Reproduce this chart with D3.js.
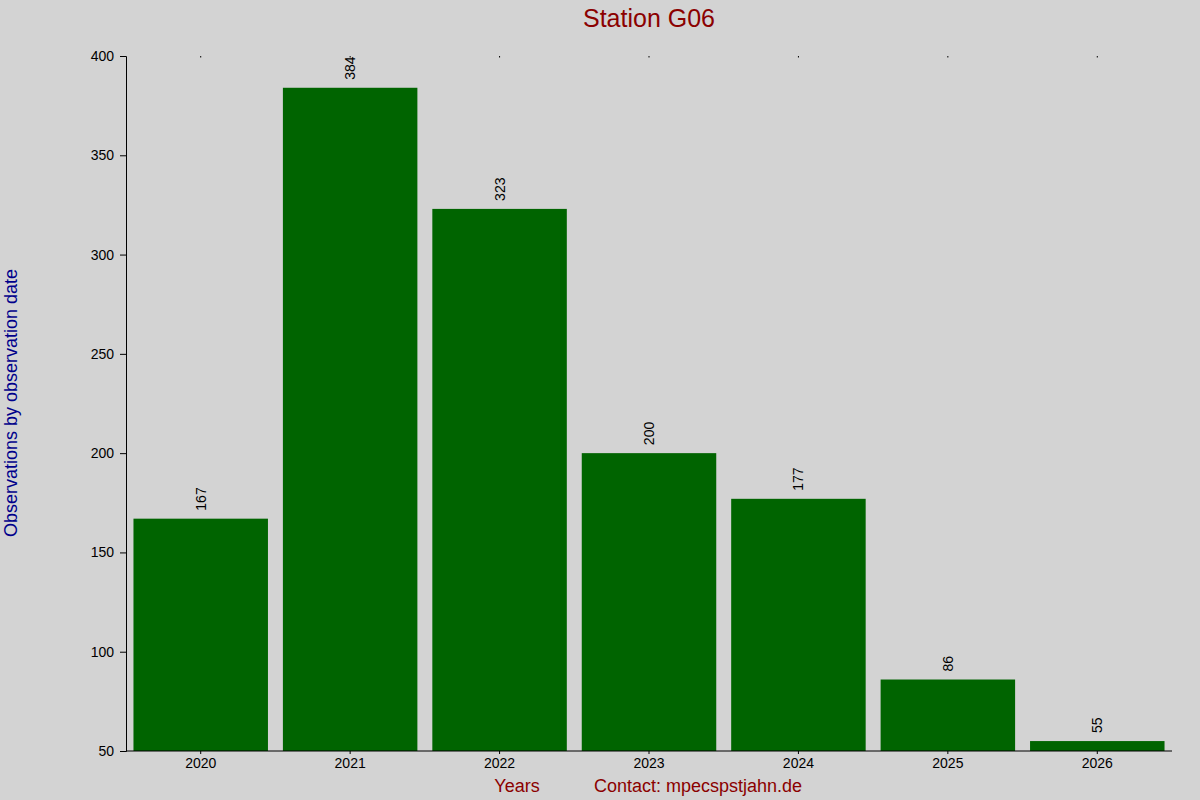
<!DOCTYPE html>
<html><head><meta charset="utf-8">
<script src="https://cdn.jsdelivr.net/npm/d3@7"></script>
<style>body{margin:0;background:#d3d3d3}svg{display:block;font-family:"Liberation Sans",Arial,sans-serif}</style>
</head><body><svg width="1200" height="800"></svg>
<script>
const years = ["2020","2021","2022","2023","2024","2025","2026"];
const counts = [167,384,323,200,177,86,55];
const yTicks = [50,100,150,200,250,300,350,400];

const svg = d3.select("svg");
svg.append("rect").attr("width",1200).attr("height",800).attr("fill","#d3d3d3");
const L=126,R=1172,T=56,B=751;
const x = d3.scaleBand().domain(years).range([L,R]).paddingInner(0.1).paddingOuter(0.05);
const y = d3.scaleLinear().domain([50,400]).range([B,T]);

svg.selectAll(".bar").data(years).join("rect")
  .attr("x",d=>x(d)).attr("width",x.bandwidth())
  .attr("y",(d,i)=>y(counts[i])).attr("height",(d,i)=>B-y(counts[i]))
  .attr("fill","#006400");

svg.selectAll(".lbl").data(years).join("text")
  .attr("transform",(d,i)=>`translate(${x(d)+x.bandwidth()/2+5},${y(counts[i])-8}) rotate(-90)`)
  .attr("font-size",14).attr("fill","#000").text((d,i)=>counts[i]);

const ya = svg.append("g").attr("transform",`translate(${L},0)`)
  .call(d3.axisLeft(y).tickValues(yTicks).tickSize(6).tickPadding(6));
ya.selectAll("text").attr("font-size",14).attr("fill","#000");
ya.selectAll("line,path").attr("stroke","#000");

const xa = svg.append("g").attr("transform",`translate(0,${B})`)
  .call(d3.axisBottom(x).tickSize(3).tickPadding(4).tickSizeOuter(0));
xa.select("path").attr("d",`M${L},0H${R}`);
xa.selectAll("text").attr("font-size",14).attr("fill","#000");
xa.selectAll("line,path").attr("stroke","#000");

svg.selectAll(".tt").data(years).join("line")
  .attr("x1",d=>x(d)+x.bandwidth()/2).attr("x2",d=>x(d)+x.bandwidth()/2)
  .attr("y1",T).attr("y2",T+1.5).attr("stroke","#000");

svg.append("text").attr("x",649).attr("y",27).attr("text-anchor","middle")
  .attr("font-size",25).attr("fill","#8b0000").text("Station G06");
svg.append("text").attr("transform","translate(17,403) rotate(-90)").attr("text-anchor","middle")
  .attr("font-size",18).attr("fill","#00008b").text("Observations by observation date");
svg.append("text").attr("x",517).attr("y",792).attr("text-anchor","middle")
  .attr("font-size",18).attr("fill","#8b0000").text("Years");
svg.append("text").attr("x",698).attr("y",792).attr("text-anchor","middle")
  .attr("font-size",18).attr("fill","#8b0000").text("Contact: mpecspstjahn.de");
</script></body></html>
